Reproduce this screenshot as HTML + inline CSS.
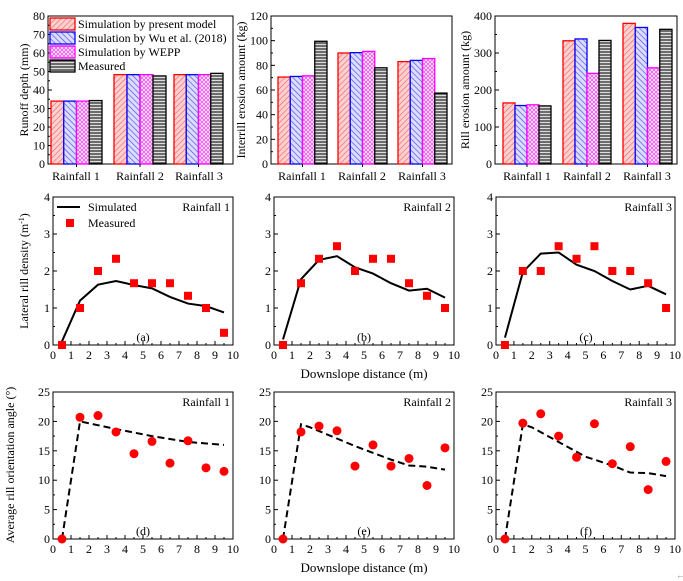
<!DOCTYPE html>
<html><head><meta charset="utf-8"><style>
body{margin:0;background:#fff}
svg{display:block;font-family:"Liberation Serif",serif;}
text{font-size:12px;fill:#000}
</style></head><body>
<svg id="s" width="683" height="581" xmlns="http://www.w3.org/2000/svg">
<defs>
<pattern id="pr" width="4" height="4" patternUnits="userSpaceOnUse" patternTransform="rotate(45)"><rect width="4" height="4" fill="#fbd0d0"/><line x1="0" y1="0" x2="0" y2="4" stroke="#f06060" stroke-width="1.2"/></pattern>
<pattern id="pb" width="4" height="4" patternUnits="userSpaceOnUse" patternTransform="rotate(-45)"><rect width="4" height="4" fill="#dcdcff"/><line x1="0" y1="0" x2="0" y2="4" stroke="#4040f0" stroke-width="1.2"/></pattern>
<pattern id="pm" width="4" height="4" patternUnits="userSpaceOnUse"><rect width="4" height="4" fill="#fff"/><path d="M0,0L4,4M4,0L0,4" stroke="#f060f0" stroke-width="1"/></pattern>
<pattern id="pk" width="4" height="3" patternUnits="userSpaceOnUse"><rect width="4" height="3" fill="#ddd"/><line x1="0" y1="1" x2="4" y2="1" stroke="#222" stroke-width="1.2"/></pattern>
</defs>
<g id="g"></g>
<g>
<text x="78" y="28">Simulation by present model</text>
<text x="78" y="42">Simulation by Wu et al. (2018)</text>
<text x="78" y="56">Simulation by WEPP</text>
<text x="78" y="70">Measured</text>
<text transform="translate(28,90) rotate(-90)" text-anchor="middle">Runoff depth (mm)</text>
<text transform="translate(245,90) rotate(-90)" text-anchor="middle">Interrill erosion amount (kg)</text>
<text transform="translate(469,90) rotate(-90)" text-anchor="middle">Rill erosion amount (kg)</text>
<text x="76" y="180" text-anchor="middle">Rainfall 1</text><text x="140" y="180" text-anchor="middle">Rainfall 2</text><text x="199" y="180" text-anchor="middle">Rainfall 3</text>
<text x="302" y="180" text-anchor="middle">Rainfall 1</text><text x="362" y="180" text-anchor="middle">Rainfall 2</text><text x="422" y="180" text-anchor="middle">Rainfall 3</text>
<text x="527" y="180" text-anchor="middle">Rainfall 1</text><text x="587" y="180" text-anchor="middle">Rainfall 2</text><text x="647" y="180" text-anchor="middle">Rainfall 3</text>
<text x="88" y="211">Simulated</text><text x="88" y="227">Measured</text>
<text x="230" y="211" text-anchor="end">Rainfall 1</text>
<text x="451" y="211" text-anchor="end">Rainfall 2</text>
<text x="672" y="211" text-anchor="end">Rainfall 3</text>
<text x="143" y="341" text-anchor="middle">(a)</text><text x="364" y="341" text-anchor="middle">(b)</text><text x="586" y="341" text-anchor="middle">(c)</text>
<text x="364" y="378" text-anchor="middle" style="font-size:13px">Downslope distance (m)</text>
<text transform="translate(28,271) rotate(-90)" text-anchor="middle">Lateral rill density (m<tspan dy="-4" style="font-size:8px">-1</tspan><tspan dy="4">)</tspan></text>
<text x="230" y="406" text-anchor="end">Rainfall 1</text>
<text x="451" y="406" text-anchor="end">Rainfall 2</text>
<text x="672" y="406" text-anchor="end">Rainfall 3</text>
<text x="143" y="535" text-anchor="middle">(d)</text><text x="364" y="535" text-anchor="middle">(e)</text><text x="586" y="535" text-anchor="middle">(f)</text>
<text x="364" y="572" text-anchor="middle" style="font-size:13px">Downslope distance (m)</text>
<text transform="translate(14,465) rotate(-90)" text-anchor="middle">Average rill orientation angle (°)</text>
<text x="676" y="578" style="font-size:9px;fill:#888">&#8592;</text>
</g>
</svg>
<script>
const g=document.getElementById('g');const NS='http://www.w3.org/2000/svg';
function el(t,a,txt){const e=document.createElementNS(NS,t);for(const k in a)e.setAttribute(k,a[k]);if(txt!==undefined)e.textContent=txt;g.appendChild(e);return e;}
function frame(x0,x1,y0,y1,ymax,ystep,minor,xt){
 el('rect',{x:x0,y:y0,width:x1-x0,height:y1-y0,fill:'none',stroke:'#000','stroke-width':1});
 const n=Math.round(ymax/ystep);
 for(let i=0;i<=n;i++){const y=y1-(y1-y0)*i/n;el('line',{x1:x0,x2:x0+4,y1:y,y2:y,stroke:'#000'});el('text',{x:x0-3,y:y+4,'text-anchor':'end'},String(i*ystep));
  if(i<n){const ym=y-(y1-y0)/n/2;el('line',{x1:x0,x2:x0+2,y1:ym,y2:ym,stroke:'#000'});}}
 if(xt){for(let i=0;i<=10;i++){const x=x0+(x1-x0)*i/10;el('line',{x1:x,x2:x,y1:y1,y2:y1-4,stroke:'#000'});el('text',{x:x,y:y1+14,'text-anchor':'middle'},String(i));
  if(i<10){const xm=x+(x1-x0)/20;el('line',{x1:xm,x2:xm,y1:y1,y2:y1-2,stroke:'#000'});}}}
}
const fills=[['url(#pr)','#f00'],['url(#pb)','#00f'],['url(#pm)','#f0f'],['url(#pk)','#000']];
function bars(x0,x1,y0,y1,ymax,ystep,groups,vals){
 frame(x0,x1,y0,y1,ymax,ystep,true,false);
 groups.forEach((gs,gi)=>{const w=(gs[1]-gs[0])/4;vals[gi].forEach((v,j)=>{const h=(y1-y0)*v/ymax;
  el('rect',{x:gs[0]+j*w,y:y1-h,width:w,height:h,fill:fills[j][0],stroke:fills[j][1],'stroke-width':1.3});});
  el('line',{x1:(gs[0]+gs[1])/2,x2:(gs[0]+gs[1])/2,y1:y1,y2:y1+3,stroke:'#000'});});
}
bars(48,233,16,164,80,10,[[51,102],[114,166],[174,223]],[[34,34,34,34.3],[48.3,48.3,48.3,47.6],[48.3,48.3,48.3,49]]);
bars(271,452,16,164,120,20,[[278,327],[338,387],[398,447]],[[70.5,71,71.5,99.5],[90,90.3,91.3,78],[83,84,85.5,57.5]]);
bars(495,677,16,164,400,100,[[503,551],[563,611],[623,672]],[[165,158,160,157],[333,338,245,334],[380,369,260,364]]);
[24,38,52,66].forEach((y,j)=>el('rect',{x:50,y:y-6,width:25,height:12,fill:fills[j][0],stroke:fills[j][1],'stroke-width':1.3}));
const X=[[53,233],[274,454],[496,675]];
const xs=[0.5,1.5,2.5,3.5,4.5,5.5,6.5,7.5,8.5,9.5];
function mx(p,v){return X[p][0]+(X[p][1]-X[p][0])*v/10;}
const sim=[[0.1,1.2,1.63,1.73,1.62,1.53,1.3,1.12,1.05,0.88],[0.15,1.78,2.3,2.4,2.1,1.93,1.67,1.47,1.52,1.28],[0.2,1.97,2.47,2.5,2.17,2,1.73,1.5,1.6,1.37]];
const mea=[[0,1,2,2.33,1.67,1.67,1.67,1.33,1,0.33],[0,1.67,2.33,2.67,2,2.33,2.33,1.67,1.33,1],[0,2,2,2.67,2.33,2.67,2,2,1.67,1]];
for(let p=0;p<3;p++){const y0=197,y1=345;frame(X[p][0],X[p][1],y0,y1,4,1,true,true);
 const my=v=>y1-(y1-y0)*v/4;
 el('polyline',{points:xs.map((x,i)=>mx(p,x)+','+my(sim[p][i])).join(' '),fill:'none',stroke:'#000','stroke-width':2});
 xs.forEach((x,i)=>el('rect',{x:mx(p,x)-4,y:my(mea[p][i])-4,width:8,height:8,fill:'#f00'}));}
el('line',{x1:57,x2:80,y1:207,y2:207,stroke:'#000','stroke-width':2});
el('rect',{x:66,y:219,width:8,height:8,fill:'#f00'});
const dsh=[[[0.5,0],[1.5,20],[3.5,18.7],[5.5,17.5],[7.5,16.5],[9.5,16]],[[0.5,0],[1.5,19.5],[2,19],[4.5,15.8],[6.5,13.5],[7.5,12.5],[8.5,12.3],[9.5,11.8]],[[0.5,0],[1.5,19.5],[2,19],[3.5,16.5],[5,14],[6.5,12.5],[7.5,11.3],[8.5,11.2],[9.5,10.7]]];
const pts=[[0,20.7,21,18.2,14.5,16.6,12.9,16.7,12.1,11.5],[0,18.2,19.2,18.4,12.4,16,12.4,13.7,9.1,15.5],[0,19.7,21.3,17.5,13.9,19.6,12.8,15.7,8.4,13.2]];
for(let p=0;p<3;p++){const y0=392,y1=539;frame(X[p][0],X[p][1],y0,y1,25,5,true,true);
 const my=v=>y1-(y1-y0)*v/25;
 el('polyline',{points:dsh[p].map(d=>mx(p,d[0])+','+my(d[1])).join(' '),fill:'none',stroke:'#000','stroke-width':2,'stroke-dasharray':'7,4'});
 xs.forEach((x,i)=>el('circle',{cx:mx(p,x),cy:my(pts[p][i]),r:4.5,fill:'#f00'}));}
</script>
</body></html>
